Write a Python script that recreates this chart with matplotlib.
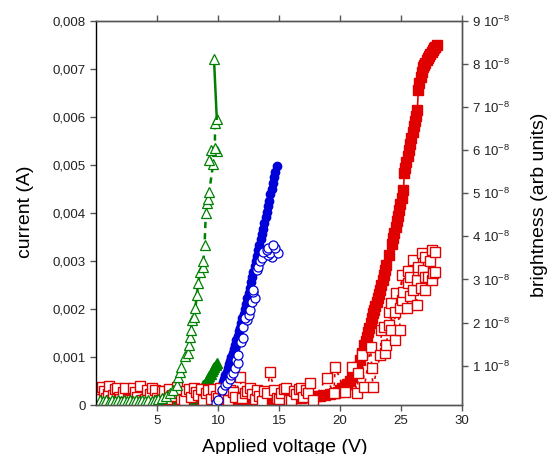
import matplotlib
matplotlib.use("Agg")
import matplotlib.pyplot as plt
from matplotlib.ticker import FuncFormatter, FixedLocator

plt.rcParams['font.family'] = ['Liberation Sans', 'DejaVu Sans']
plt.rcParams['mathtext.fontset'] = 'custom'
plt.rcParams['mathtext.rm'] = 'Liberation Sans'
plt.rcParams['mathtext.it'] = 'Liberation Sans'

RED = "#e00000"
BLUE = "#0000d8"
GREEN = "#008000"
GREY = "#555555"

# ---- data: open markers = current (A), filled markers = brightness (1e-8 arb units)

# green open triangles - current
green_v = [0.3, 0.55, 0.8, 1.05, 1.3, 1.55, 1.8, 2.05, 2.3, 2.55, 2.8, 3.05, 3.3,
           3.55, 3.8, 4.05, 4.3, 4.55, 4.8, 5.05, 5.4, 5.7, 6.1, 6.35, 6.6, 6.75,
           6.9, 7.0, 7.3, 7.57, 7.6, 7.7, 7.76, 7.9, 8.0, 8.15, 8.25, 8.4, 8.5,
           8.75, 8.8, 8.9, 9.0, 9.07, 9.2, 9.28, 9.6, 9.28, 9.95, 9.4, 9.75, 9.75,
           9.9, 9.67]
green_i = [0.00010, 0.00008, 0.00011, 0.00007, 0.00010, 0.00009, 0.00011, 0.00008,
           0.00010, 0.00009, 0.00011, 0.00008, 0.00010, 0.00009, 0.00010, 0.00008,
           0.00011, 0.00009, 0.00010, 0.00012, 0.00014, 0.00019, 0.00024, 0.00031,
           0.00042, 0.00059, 0.00069, 0.00080, 0.00101, 0.00108, 0.00125, 0.00142,
           0.00156, 0.00177, 0.00184, 0.00201, 0.00229, 0.00253, 0.00276, 0.00288,
           0.00300, 0.00333, 0.00399, 0.00420, 0.00429, 0.00444, 0.00502, 0.00510,
           0.00528, 0.00531, 0.00535, 0.00587, 0.00596, 0.00721]

# green filled triangles - brightness
greenb_v = [0.1, 0.4, 0.7, 1.0, 1.3, 1.6, 1.9, 2.2, 2.5, 2.8, 3.1, 3.4, 3.7, 4.0,
            4.3, 4.6, 4.9, 5.2, 5.5, 5.8, 6.1, 6.4, 6.7, 7.0, 7.2, 7.4, 7.6, 7.8,
            8.0, 8.2, 8.4, 8.6, 8.8, 9.0, 9.1, 9.2, 9.3, 9.4, 9.5, 9.6, 9.7, 9.8, 9.9]
greenb_b = [0.10, 0.10, 0.09, 0.09, 0.09, 0.09, 0.09, 0.09, 0.09, 0.09, 0.09, 0.09,
            0.09, 0.09, 0.09, 0.09, 0.10, 0.10, 0.10, 0.11, 0.12, 0.13, 0.15, 0.17,
            0.18, 0.20, 0.22, 0.24, 0.26, 0.31, 0.38, 0.47, 0.55, 0.63, 0.67, 0.71,
            0.76, 0.81, 0.87, 0.93, 0.98, 1.02, 1.06]

# blue open circles - current
blue_v = [9.8, 10.0, 10.3, 10.57, 10.7, 11.0, 11.1, 11.25, 11.4, 11.5, 11.66, 11.66,
          11.9, 12.07, 12.07, 12.35, 12.2, 12.5, 12.6, 12.76, 13.0, 12.9, 12.84,
          13.17, 13.3, 13.44, 13.58, 14.4, 14.1, 14.26, 14.95, 13.7, 14.0, 14.1,
          14.7, 14.5]
blue_i = [0.00005, 0.00010, 0.00031, 0.00042, 0.00045, 0.00055, 0.00063, 0.00066,
          0.00076, 0.00094, 0.00087, 0.00104, 0.00132, 0.00139, 0.00163, 0.00177,
          0.00181, 0.00188, 0.00198, 0.00215, 0.00222, 0.00236, 0.00240, 0.00281,
          0.00288, 0.00299, 0.00306, 0.00309, 0.00312, 0.00316, 0.00316, 0.00319,
          0.00323, 0.00326, 0.00326, 0.00333]

# blue filled circles - brightness
blueb_v = [9.2, 9.35, 9.5, 9.65, 9.8, 9.95, 10.1, 10.2, 10.3, 10.4, 10.5, 10.6, 10.7,
           10.8, 10.9, 11.0, 11.1, 11.2, 11.3, 11.4, 11.5, 11.6, 11.7, 11.8, 11.9,
           12.0, 12.1, 12.2, 12.3, 12.4, 12.5, 12.6, 12.7, 12.8, 12.9, 13.0, 13.1,
           13.2, 13.3, 13.4, 13.5, 13.6, 13.7, 13.8, 13.9, 14.0, 14.1, 14.2, 14.3,
           14.4, 14.5, 14.6, 14.7, 14.8]
blueb_b = [0.11, 0.13, 0.16, 0.21, 0.26, 0.33, 0.42, 0.49, 0.56, 0.63, 0.70, 0.78,
           0.86, 0.94, 1.03, 1.11, 1.20, 1.29, 1.39, 1.49, 1.59, 1.69, 1.80, 1.88,
           1.99, 2.10, 2.20, 2.32, 2.44, 2.56, 2.68, 2.80, 2.93, 3.05, 3.17, 3.30,
           3.42, 3.55, 3.68, 3.80, 3.93, 4.06, 4.18, 4.31, 4.44, 4.57, 4.70, 4.83,
           4.97, 5.10, 5.24, 5.37, 5.50, 5.62]

# red open squares - current
red_v = [0.2, 0.5, 0.8, 1.1, 1.4, 1.7, 2.0, 2.4, 2.8, 3.2, 3.6, 4.0, 4.4, 4.8, 5.2,
         5.6, 6.0, 6.4, 6.8, 7.2, 7.6, 8.0, 8.4, 8.8, 9.2, 9.6, 10.0, 10.4, 10.8,
         11.2, 11.8, 12.0, 12.4, 12.8, 13.2, 13.6, 14.0, 14.26, 14.6, 15.0, 15.4,
         15.8, 16.2, 16.6, 17.0, 17.4, 17.5, 17.8, 18.9, 19.5, 19.6, 20.4, 21.0,
         21.4, 21.5, 22.0, 21.8, 22.6, 22.7, 22.5, 23.3, 23.7, 23.8, 24.5, 23.4,
         24.2, 24.9, 24.0, 23.6, 24.0, 24.5, 24.2, 24.9, 25.5, 26.3, 24.6, 25.1,
         25.2, 25.7, 26.0, 26.97, 26.6, 25.6, 26.3, 27.5, 25.7, 25.05, 26.97, 27.65,
         26.4, 25.6, 26.8, 27.8, 26.0, 26.7, 27.5, 27.4, 27.8, 26.97, 26.4, 27.2]
red_i = [0.00025, 0.00038, 0.00015, 0.00040, 0.00020, 0.00035, 0.00012, 0.00036,
         0.00010, 0.00028, 0.00039, 0.00013, 0.00022, 0.00032, 0.00010, 0.00030,
         0.00034, 0.00018, 0.00026, 0.00010, 0.00033, 0.00036, 0.00020, 0.00011,
         0.00032, 0.00034, 0.00015, 0.00026, 0.00010, 0.00028, 0.00059, 0.00014,
         0.00030, 0.00022, 0.00032, 0.00008, 0.00024, 0.00069, 0.00031, 0.00012,
         0.00034, 0.00010, 0.00030, 0.00033, 0.00016, 0.00024, 0.00045, 0.00010,
         0.00056, 0.00024, 0.00080, 0.00028, 0.00080, 0.00024, 0.00066, 0.00038,
         0.00104, 0.00076, 0.00038, 0.00121, 0.00104, 0.00108, 0.00125, 0.00135,
         0.00156, 0.00156, 0.00156, 0.00167, 0.00163, 0.00194, 0.00194, 0.00212,
         0.00201, 0.00201, 0.00208, 0.00233, 0.00219, 0.00236, 0.00226, 0.00240,
         0.00240, 0.00243, 0.00253, 0.00260, 0.00260, 0.00267, 0.00271, 0.00267,
         0.00274, 0.00281, 0.00278, 0.00281, 0.00276, 0.00302, 0.00316, 0.00323,
         0.00299, 0.00319, 0.00309, 0.00288, 0.00267]
red_low_v = [0.35, 0.65, 0.95, 1.25, 1.55, 1.85, 2.2, 2.6, 3.0, 3.4, 3.8, 4.2, 4.6,
             5.0, 5.4, 5.8, 6.2, 6.6, 7.0, 7.4, 7.8, 8.2, 8.6, 9.0, 9.4, 9.8, 10.2,
             10.6, 11.0, 11.4, 12.2, 12.6, 13.0, 13.4, 13.8, 14.8, 15.2, 15.6, 16.0,
             16.4, 16.8, 17.2]
red_low_i = [0.00012, 0.00030, 0.00022, 0.00010, 0.00033, 0.00016, 0.00027, 0.00013,
             0.00035, 0.00017, 0.00011, 0.00031, 0.00036, 0.00014, 0.00029, 0.00012,
             0.00021, 0.00038, 0.00013, 0.00030, 0.00016, 0.00027, 0.00034, 0.00026,
             0.00013, 0.00019, 0.00035, 0.00012, 0.00031, 0.00016, 0.00026, 0.00036,
             0.00012, 0.00019, 0.00029, 0.00014, 0.00026, 0.00035, 0.00011, 0.00022,
             0.00036, 0.00032]

# red filled squares - brightness
redb_v = [0.0, 0.4, 0.8, 1.2, 1.6, 2.0, 2.4, 2.8, 3.2, 3.6, 4.0, 4.4, 4.8, 5.2, 5.6,
          6.0, 6.4, 6.8, 7.2, 7.6, 8.0, 8.4, 8.8, 9.2, 9.6, 10.0, 10.4, 10.8, 11.2,
          11.6, 12.0, 12.4, 12.8, 13.2, 13.6, 14.0, 14.4, 14.8, 15.2, 15.6, 16.0,
          16.4, 16.8, 17.2, 17.6, 18.0, 18.4, 18.8, 19.2, 19.6, 19.8, 20.0, 20.2,
          20.4, 20.6, 20.8, 21.0, 21.2, 21.4, 21.6, 21.8, 22.0, 22.1, 22.2, 22.3,
          22.4, 22.5, 22.6, 22.7, 22.8, 22.9, 23.0, 23.1, 23.2, 23.3, 23.4, 23.5,
          23.6, 23.7, 23.8, 24.05, 24.25, 24.35, 24.45, 24.55, 24.65, 24.75, 24.85,
          24.95, 25.05, 25.2, 25.27, 25.35, 25.45, 25.55, 25.65, 25.75, 25.85, 25.95,
          26.05, 26.15, 26.25, 26.34, 26.42, 26.5, 26.6, 26.7, 26.8, 26.9, 27.0, 27.1,
          27.2, 27.3, 27.4, 27.5, 27.6, 27.7, 27.8, 27.95]
redb_b = [0.09, 0.09, 0.10, 0.09, 0.09, 0.10, 0.09, 0.10, 0.10, 0.10, 0.10, 0.11,
          0.11, 0.11, 0.12, 0.12, 0.12, 0.13, 0.13, 0.13, 0.14, 0.14, 0.15, 0.15,
          0.16, 0.16, 0.17, 0.17, 0.18, 0.18, 0.19, 0.19, 0.20, 0.20, 0.21, 0.21,
          0.22, 0.22, 0.23, 0.23, 0.24, 0.25, 0.26, 0.27, 0.28, 0.29, 0.30, 0.32,
          0.34, 0.37, 0.40, 0.44, 0.48, 0.53, 0.58, 0.64, 0.73, 0.85, 0.98, 1.13,
          1.30, 1.48, 1.57, 1.67, 1.78, 1.88, 1.98, 2.10, 2.21, 2.30, 2.39, 2.48,
          2.57, 2.66, 2.75, 2.86, 2.98, 3.10, 3.22, 3.33, 3.57, 3.82, 3.95, 4.08,
          4.22, 4.35, 4.48, 4.61, 4.74, 4.88, 5.07, 5.46, 5.58, 5.72, 5.86, 6.00,
          6.14, 6.28, 6.42, 6.55, 6.68, 6.80, 6.93, 7.39, 7.55, 7.70, 7.82, 7.93,
          7.98, 8.03, 8.08, 8.13, 8.18, 8.23, 8.28, 8.32, 8.36, 8.40, 8.44]

x_ticks = [5, 10, 15, 20, 25, 30]
left_ticks = [0, 0.001, 0.002, 0.003, 0.004, 0.005, 0.006, 0.007, 0.008]
right_ticks = [1, 2, 3, 4, 5, 6, 7, 8, 9]

fig = plt.figure(figsize=(5.47, 4.54), dpi=100)
ax = fig.add_axes([96 / 547, 1 - 405 / 454, 366 / 547, 384.3 / 454])
ax2 = ax.twinx()

# brightness (filled markers) on the right axis
ax2.plot(redb_v, redb_b, "-s", color=RED, mfc=RED, mec=RED, ms=6.8, lw=1.2)
ax2.plot(blueb_v, blueb_b, "-o", color=BLUE, mfc=BLUE, mec=BLUE, ms=6, lw=1.2)
ax2.plot(greenb_v, greenb_b, "-^", color=GREEN, mfc=GREEN, mec=GREEN, ms=7, lw=1.5)

# current (open markers) on the left axis
pairs = sorted(zip(red_v + red_low_v, red_i + red_low_i))
ax.plot([p[0] for p in pairs], [p[1] for p in pairs], "--s", color=RED, mfc="white",
        mec=RED, ms=7, lw=1.2, mew=1.0, dashes=(2, 3))
ax.plot(blue_v, blue_i, "-o", color=BLUE, mfc="white", mec=BLUE, ms=6.5, lw=1.2, mew=0.9)
ax.plot(green_v[:-1], green_i[:-1], "--^", color=GREEN, mfc="white", mec=GREEN,
        ms=7.5, lw=1.8, mew=0.9, dashes=(2.5, 2))
ax.plot(green_v[-2:], green_i[-2:], "-", color=GREEN, lw=1.8)
ax.plot(green_v[-1:], green_i[-1:], "^", color=GREEN, mfc="white", mec=GREEN,
        ms=7.5, mew=0.9)

ax.set_zorder(ax2.get_zorder() + 1)
ax.patch.set_visible(False)

ax.set_xlim(0, 30)
ax.set_ylim(0, 0.008)
ax2.set_ylim(0.088, 9)

ax.xaxis.set_major_locator(FixedLocator(x_ticks))
ax.yaxis.set_major_locator(FixedLocator(left_ticks))
ax2.yaxis.set_major_locator(FixedLocator(right_ticks))
ax.yaxis.set_major_formatter(FuncFormatter(
    lambda v, p: "0" if v == 0 else f"{v:.3f}".replace(".", ",")))
ax2.yaxis.set_major_formatter(FuncFormatter(lambda v, p: f"{int(v)} 10$^{{-8}}$"))

for a in (ax, ax2):
    for s in a.spines.values():
        s.set_color(GREY)
        s.set_linewidth(1.0)
ax.spines["left"].set_color("black")
ax2.spines["left"].set_visible(False)

ax.tick_params(axis="both", direction="out", length=4, width=1, color=GREY,
               labelsize=9.5, labelcolor="#222222", top=True, labeltop=False)
ax2.tick_params(axis="y", direction="out", length=4, width=1, color=GREY,
                labelsize=9.5, labelcolor="#222222")

fig.text(25 / 547, 1 - 212 / 454, "current (A)", rotation=90, fontsize=14,
         ha="center", va="center")
fig.text(285 / 547, 1 - 447 / 454, "Applied voltage (V)", fontsize=14,
         ha="center", va="center")
fig.text(539 / 547, 1 - 205 / 454, "brightness (arb units)", rotation=90,
         fontsize=14, ha="center", va="center")

fig.savefig("out.png", dpi=100)
